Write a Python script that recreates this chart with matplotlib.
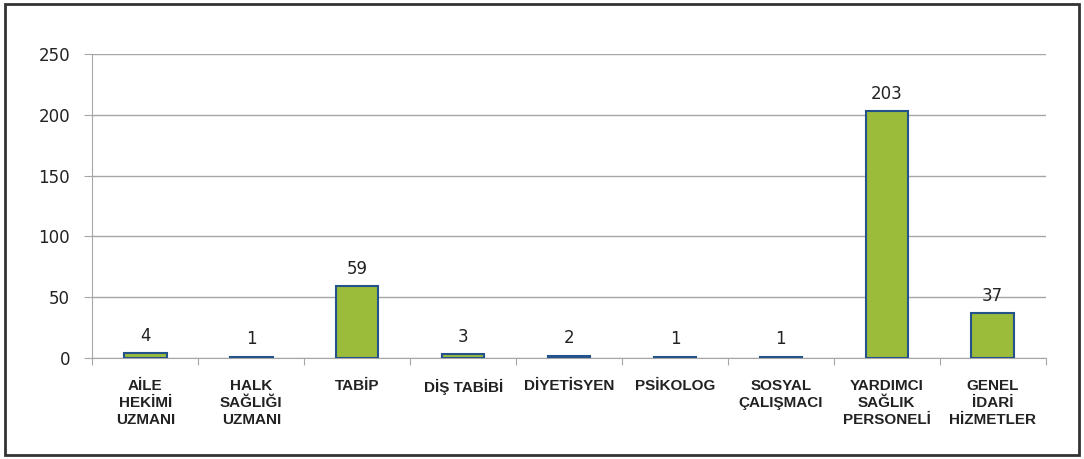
import matplotlib.pyplot as plt
from matplotlib.patches import Rectangle
import numpy as np

categories = ["AİLE\nHEKİMİ\nUZMANI", "HALK\nSAĞLIĞI\nUZMANI", "TABİP", "DİŞ TABİBİ",
              "DİYETİSYEN", "PSİKOLOG", "SOSYAL\nÇALIŞMACI",
              "YARDIMCI\nSAĞLIK\nPERSONELİ", "GENEL\nİDARİ\nHİZMETLER"]
values = [4, 1, 59, 3, 2, 1, 1, 203, 37]
y_ticks = [0, 50, 100, 150, 200, 250]

fig = plt.figure(figsize=(10.84, 4.59), dpi=100)
ax = fig.add_axes([0.0853, 0.22, 0.8793, 0.6624])

x = np.arange(len(categories))
bars = ax.bar(x, values, width=0.4, color="#9bbb3b", edgecolor="#24528a",
              linewidth=1.5, zorder=3)

for xi, v in zip(x, values):
    ax.annotate(str(v), (xi, v), xytext=(0, 6), textcoords="offset points",
                ha="center", va="bottom", fontsize=12, color="#222222")

ax.set_xlim(-0.5, len(categories) - 0.5)
ax.set_ylim(0, 250)
ax.set_yticks(y_ticks)
ax.set_yticklabels([str(t) for t in y_ticks], fontsize=12, color="#222222")
ax.yaxis.grid(True, color="#a6a6a6", linewidth=1)
ax.set_axisbelow(True)

# category ticks sit on the boundaries, labels in the middle
ax.set_xticks(np.arange(len(categories) + 1) - 0.5)
ax.set_xticklabels([])
ax.set_xticks(x, minor=True)
ax.set_xticklabels(categories, minor=True, fontsize=11, fontweight="bold",
                   family="Liberation Sans", color="#222222", linespacing=1.28,
                   va="top")
ax.tick_params(axis="x", which="minor", length=0, pad=15)
ax.tick_params(axis="x", which="major", length=5, color="#a6a6a6")
ax.tick_params(axis="y", length=6, color="#a6a6a6", pad=10)

for s in ["top", "right"]:
    ax.spines[s].set_visible(False)
ax.spines["left"].set_color("#a6a6a6")
ax.spines["bottom"].set_color("#a6a6a6")

fig.patches.append(Rectangle((5 / 1084, 4 / 459), 1074 / 1084, 451 / 459,
                             transform=fig.transFigure, fill=False,
                             edgecolor="#333333", linewidth=2))

fig.savefig("out.png", dpi=100)
